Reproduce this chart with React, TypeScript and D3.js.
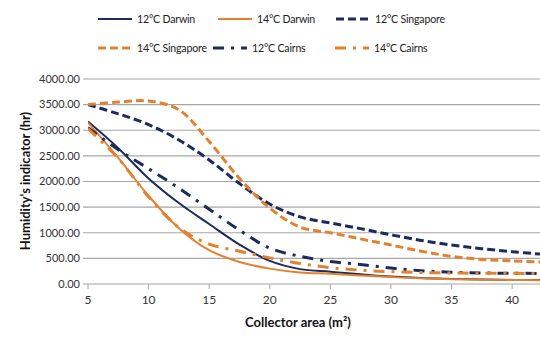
import React from 'react';
import * as d3 from 'd3';

const areas = [5, 7.5, 10, 12.5, 15, 17.5, 20, 22.5, 25, 27.5, 30, 32.5, 35, 37.5, 40, 42.5];

const darwin12 = [3170, 2650, 2060, 1580, 1170, 770, 450, 290, 240, 190, 145, 115, 100, 88, 80, 78];
const darwin14 = [3150, 2460, 1720, 1090, 660, 430, 300, 225, 200, 165, 135, 110, 95, 85, 78, 75];
const singapore12 = [3500, 3320, 3110, 2810, 2420, 1960, 1560, 1310, 1190, 1080, 960, 850, 760, 690, 630, 580];
const singapore14 = [3500, 3550, 3570, 3400, 2780, 2060, 1480, 1110, 1000, 880, 760, 640, 540, 480, 450, 430];
const cairns12 = [3050, 2620, 2250, 1870, 1460, 1050, 700, 540, 440, 380, 310, 260, 230, 215, 210, 205];
const cairns14 = [3030, 2450, 1700, 1100, 780, 640, 510, 400, 320, 270, 240, 225, 215, 210, 208, 205];

const yTicks = [0, 500, 1000, 1500, 2000, 2500, 3000, 3500, 4000];
const xTicks = [5, 10, 15, 20, 25, 30, 35, 40];

const navy = '#1c2b5e';
const orange = '#e3812f';

const series = [
  { name: '12°C Darwin', values: darwin12, color: navy, dash: 'none', width: 2 },
  { name: '14°C Darwin', values: darwin14, color: orange, dash: 'none', width: 2 },
  { name: '12°C Singapore', values: singapore12, color: navy, dash: '8,4', width: 3 },
  { name: '14°C Singapore', values: singapore14, color: orange, dash: '8,4', width: 3 },
  { name: '12°C Cairns', values: cairns12, color: navy, dash: '11,7,3,7', width: 3 },
  { name: '14°C Cairns', values: cairns14, color: orange, dash: '11,7,3,7', width: 3 },
];

const legendPos = [
  { x: 98, y: 19 }, { x: 218, y: 19 }, { x: 336, y: 19 },
  { x: 98, y: 48 }, { x: 213, y: 48 }, { x: 335, y: 48 },
];

export default function App() {
  const width = 540;
  const height = 340;
  const left = 88;
  const x = d3.scaleLinear().domain([5, 42.3]).range([left, 540]);
  const y = d3.scaleLinear().domain([0, 4000]).range([284, 79]);

  const line = d3.line<number>()
    .x((_, i) => x(areas[i]))
    .y(d => y(d))
    .curve(d3.curveCatmullRom.alpha(0.5));

  const font = 'Lato, "Open Sans", sans-serif';

  return (
    <svg width={width} height={height} style={{ position: 'absolute', left: 0, top: 0, background: '#fff' }} fontFamily={font}>
      <defs>
        <clipPath id="plot">
          <rect x={left} y={60} width={width - left} height={230} />
        </clipPath>
      </defs>
      {yTicks.map(t => (
        <g key={t}>
          <line x1={left - 5} x2={width} y1={y(t)} y2={y(t)} stroke="#a6a6a6" strokeWidth={1.2} />
          <text x={80} y={y(t)} dy="0.35em" textAnchor="end" fontSize={11} fill="#333">
            {t.toFixed(2)}
          </text>
        </g>
      ))}
      {xTicks.map(t => (
        <g key={t}>
          <line x1={x(t)} x2={x(t)} y1={284} y2={289} stroke="#a6a6a6" />
          <text x={x(t)} y={304} textAnchor="middle" fontSize={12} fill="#333">{t}</text>
        </g>
      ))}
      <g clipPath="url(#plot)">
        {series.map(s => (
          <path key={s.name} d={line(s.values) ?? ''} fill="none" stroke={s.color}
            strokeWidth={s.width} strokeDasharray={s.dash} />
        ))}
      </g>
      {series.map((s, i) => (
        <g key={s.name} transform={`translate(${legendPos[i].x},${legendPos[i].y})`}>
          <line x1={0} x2={34} y1={0} y2={0} stroke={s.color} strokeWidth={s.width}
            strokeDasharray={s.dash} />
          <text x={39} y={0} dy="0.35em" fontSize={10.6} letterSpacing={-0.2} fill="#222">{s.name}</text>
        </g>
      ))}
      <text transform="translate(30,181) rotate(-90)" textAnchor="middle" fontSize={13}
        fontWeight="bold" fill="#111">Humidity's indicator (hr)</text>
      <text x={298} y={327} textAnchor="middle" fontSize={13} fontWeight="bold" fill="#111">
        Collector area (m²)
      </text>
    </svg>
  );
}
